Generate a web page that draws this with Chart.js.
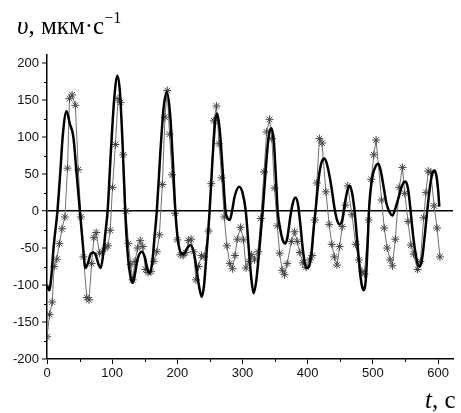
<!DOCTYPE html>
<html>
<head>
<meta charset="utf-8">
<script src="https://cdn.jsdelivr.net/npm/chart.js@4.4.0/dist/chart.umd.min.js"></script>
<style>
  body { margin: 0; background: #fff; }
  #wrap { position: relative; width: 461px; height: 413px; }
  .lbl { position: absolute; font-family: 'Liberation Serif', 'Times New Roman', serif; color: #000; white-space: nowrap; }
</style>
</head>
<body>
<div id="wrap">
  <canvas id="grafico" width="461" height="413"></canvas>
  <div class="lbl" style="left:17px; top:12px; font-size:25px;"><i>υ</i>, мкм·с<span style="position:relative; top:-11px; font-size:16px;">−1</span></div>
  <div class="lbl" style="left:425px; top:386px; font-size:25px;"><i>t</i>, с</div>
</div>
<script>
// model curve (thick line)
const tModel = [0, 3.5, 7, 10, 16, 21, 24, 30, 35, 40.5, 45, 50.5, 55, 59, 63, 67, 71, 75, 79, 82.5, 86, 89.5, 93, 98, 103, 108, 112, 116, 120, 124, 128, 131.5, 135, 139, 145.5, 150, 154, 158, 162, 165, 168.5, 174, 179, 184, 189, 193, 197, 201, 206, 210, 214, 220, 225, 229, 233, 237.5, 241, 245, 249.5, 254, 258, 261, 265, 270, 274, 277.5, 280.5, 284, 288, 295, 300, 305, 310, 314, 317, 321, 326, 331, 336, 340, 344, 348, 351, 354, 358, 362, 365.5, 369, 373, 377, 381, 385, 389, 393, 398, 402, 406, 409, 412, 417, 421, 426, 430, 436, 441, 445, 449, 453, 457, 461, 464.5, 468, 472, 476, 480, 483, 486, 489, 492, 494, 499, 504, 508.5, 512, 517, 521, 526, 530, 534, 540, 545, 550, 554, 558, 562, 566, 569, 572.5, 576, 580, 584, 588, 591, 594.5, 597, 600, 602];
const vModel = [-100, -107, -85, -50, 0, 60, 100, 135, 118, 100, 55, 0, -45, -77, -70, -58, -56, -60, -72, -77, -60, -30, 0, 80, 150, 183, 160, 90, 0, -60, -88, -97, -85, -65, -55, -62, -78, -84, -65, -35, 0, 80, 140, 161, 130, 70, 0, -40, -57, -58, -52, -46, -55, -75, -100, -116, -100, -55, 0, 70, 120, 132, 110, 50, 0, -10, -12, 0, 20, 33, 25, 0, -55, -95, -111, -95, -50, 0, 60, 100, 112, 95, 50, 0, -25, -40, -44, -35, -10, 10, 18.5, 10, -20, -55, -77, -75, -55, -25, 0, 45, 65, 71, 62, 35, 5, -12, -18, -12, 10, 28, 34, 25, 0, -40, -80, -100, -107, -95, -45, 0, 45, 60, 64, 55, 30, 10, -2, -6, 2, 20, 35, 40, 30, 0, -35, -60, -72, -75, -62, -30, 5, 35, 50, 55, 50, 30, 6];

// measured points (thin line with asterisks)
const tMeas = [0, 4, 8, 11, 15, 19, 23, 27.5, 31.5, 34.5, 38.5, 43.5, 48, 52, 56, 61, 64.5, 68.5, 72, 75.5, 80.5, 85, 89.5, 93.5, 97, 100.5, 105, 109, 113, 117, 121, 125, 128.5, 131.5, 135, 139, 143, 147, 151, 155, 159.5, 164, 168.5, 172.5, 177, 181, 184.5, 188, 192, 196.5, 200, 204.5, 209, 213, 217, 221, 225, 228.5, 232.5, 237, 241, 248, 252, 256, 260, 264, 268, 272, 276, 280.5, 284.5, 288.5, 292, 297, 301.5, 305.5, 310, 314, 318.5, 324, 328, 333, 337, 341.5, 345, 349, 353.5, 357, 361, 364.5, 368.5, 375, 380, 384, 388, 392.5, 397.5, 403, 407, 411, 414, 418, 422, 428, 433, 437, 441, 445, 449, 453, 458, 461.5, 468, 473.5, 478.5, 483.5, 487, 493.5, 497.5, 501.5, 505, 513.5, 517.5, 522, 526.5, 530, 534.5, 540.5, 545.5, 549, 554, 558.5, 562.5, 568.5, 573, 578, 581.5, 585, 589, 594, 598.5, 603];
const vMeas = [-170, -140, -123, -75, -65, -44, -24, -8, 58, 152, 157, 143, 56, -8, -62, -117, -120, -71, -36, -29, -57, -55, -50, -47, -26, 32, 90, 152, 147, 76, 0, -44, -72, -93, -68, -50, -40, -48, -79, -83, -82, -68, -55, -32, 36, 127, 163, 104, 49, -3, -39, -59, -60, -56, -40, -38, -55, -93, -75, -60, -62, -27, 37, 122, 142, 91, 45, -8, -47, -71, -78, -60, -38, -22, -39, -77, -68, -59, -66, -55, -10, 53, 107, 124, 98, 31, -20, -57, -80, -86, -71, -41, -28, -41, -56, -70, -76, -66, -60, -12, 38, 98, 92, 26, -18, -45, -62, -73, -48, -21, 8, 34, -5, -45, -66, -82, -85, -12, 43, 76, 96, 15, -23, -50, -66, -74, -38, 32, 59, 24, -14, -46, -58, -79, -68, -9, 25, 54, 52, 7, -23, -62];

// axis ticks
const tTicks = [0, 100, 200, 300, 400, 500, 600];
const tMinor = [50, 150, 250, 350, 450, 550];
const vTicks = [-200, -150, -100, -50, 0, 50, 100, 150, 200];
const vMinor = [-175, -125, -75, -25, 25, 75, 125, 175];

const minorTicks = {
  id: 'minorTicks',
  afterDraw(chart) {
    const c = chart.ctx, a = chart.chartArea;
    const sx = chart.scales.x, sy = chart.scales.y;
    c.save();
    c.strokeStyle = '#000';
    c.lineWidth = 1;
    c.beginPath();
    tMinor.forEach(t => {
      const px = Math.round(sx.getPixelForValue(t)) + 0.5;
      c.moveTo(px, a.bottom);
      c.lineTo(px, a.bottom + 3);
    });
    vMinor.forEach(v => {
      const py = Math.round(sy.getPixelForValue(v)) + 0.5;
      c.moveTo(a.left - 3, py);
      c.lineTo(a.left, py);
    });
    c.stroke();
    c.restore();
  }
};

const ctx = document.getElementById('grafico').getContext('2d');
new Chart(ctx, {
  type: 'line',
  data: {
    datasets: [{
      label: 'model',
      data: tModel.map((t, i) => ({ x: t, y: vModel[i] })),
      borderColor: '#000',
      borderWidth: 2.5,
      pointRadius: 0,
      cubicInterpolationMode: 'monotone',
      fill: false
    }, {
      label: 'measured',
      data: tMeas.map((t, i) => ({ x: t, y: vMeas[i] })),
      borderColor: '#707070',
      borderWidth: 1,
      pointStyle: 'star',
      pointRadius: 4,
      pointBorderColor: '#444',
      pointBorderWidth: 1,
      tension: 0,
      fill: false
    }]
  },
  options: {
    responsive: false,
    animation: false,
    events: [],
    layout: { padding: { top: 55, right: 8, left: 0, bottom: 0 } },
    plugins: { legend: { display: false }, tooltip: { enabled: false } },
    scales: {
      x: {
        type: 'linear',
        min: 0,
        max: 623,
        afterBuildTicks: s => { s.ticks = tTicks.map(v => ({ value: v })); },
        afterFit: s => { s.height = 54; },
        border: { display: true, color: '#000', width: 1.5 },
        grid: { drawOnChartArea: false, drawTicks: true, tickLength: 5, tickColor: '#000', tickWidth: 1 },
        ticks: { color: '#111', padding: 2, font: { family: 'Liberation Sans, Arial, sans-serif', size: 13 }, maxRotation: 0 }
      },
      y: {
        type: 'linear',
        min: -200,
        max: 211,
        afterBuildTicks: s => { s.ticks = vTicks.map(v => ({ value: v })); },
        afterFit: s => { s.width = 47; },
        border: { display: true, color: '#000', width: 1.5 },
        grid: {
          drawOnChartArea: true,
          drawTicks: true,
          tickLength: 5,
          tickColor: '#000',
          tickWidth: 1,
          color: c => (c.tick && c.tick.value === 0) ? '#000' : 'rgba(0,0,0,0)',
          lineWidth: c => (c.tick && c.tick.value === 0) ? 1.5 : 0
        },
        ticks: { color: '#111', padding: 3, font: { family: 'Liberation Sans, Arial, sans-serif', size: 13 } }
      }
    }
  },
  plugins: [minorTicks]
});
</script>
</body>
</html>
